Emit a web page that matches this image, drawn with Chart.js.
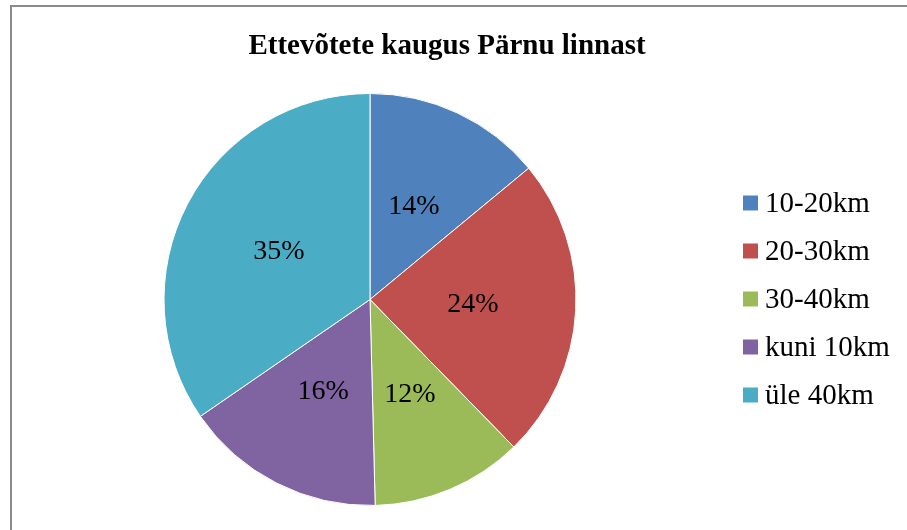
<!DOCTYPE html>
<html>
<head>
<meta charset="utf-8">
<script src="https://cdn.jsdelivr.net/npm/chart.js@4"></script>
<style>
  html, body { margin: 0; padding: 0; background: #fff; }
  #wrap { position: relative; width: 907px; height: 530px; }
  #frame {
    position: absolute; left: 10px; top: 5px; right: 0; bottom: 0;
    border-left: 2px solid #8a8a8a; border-top: 2px solid #8a8a8a;
    pointer-events: none;
  }
</style>
</head>
<body>
<div id="wrap">
  <canvas id="pie-chart" width="907" height="530"></canvas>
  <div id="frame"></div>
</div>
<script>
  const chartTitle = 'Ettevõtete kaugus Pärnu linnast';
  const labels = ['10-20km', '20-30km', '30-40km', 'kuni 10km', 'üle 40km'];
  const values = [14, 23.7, 11.9, 15.8, 34.6];
  const colors = ['#4f81bd', '#c0504d', '#9bbb59', '#8064a2', '#4bacc6'];

  const serif = "'Liberation Serif', 'Times New Roman', serif";

  // percent labels in the middle of each slice + title + legend
  const decorations = {
    id: 'decorations',
    afterDatasetsDraw(chart) {
      const ctx = chart.ctx;
      const meta = chart.getDatasetMeta(0);
      const total = values.reduce((a, b) => a + b, 0);
      ctx.save();
      ctx.fillStyle = '#000';
      ctx.font = '28px ' + serif;
      ctx.textAlign = 'center';
      ctx.textBaseline = 'middle';
      meta.data.forEach((arc, i) => {
        const p = arc.tooltipPosition();
        ctx.fillText(Math.round(values[i] / total * 100) + '%', p.x, p.y);
      });

      // title
      ctx.font = 'bold 29px ' + serif;
      ctx.fillText(chartTitle, 447, 47);

      // legend
      ctx.textAlign = 'left';
      ctx.font = '29px ' + serif;
      labels.forEach((lab, i) => {
        const y = 203 + i * 48;
        ctx.fillStyle = colors[i];
        ctx.fillRect(743, y - 7.5, 15, 15);
        ctx.fillStyle = '#000';
        ctx.fillText(lab, 765, y + 1);
      });
      ctx.restore();
    }
  };

  const data = {
    labels: labels,
    datasets: [{
      data: values,
      backgroundColor: colors,
      borderColor: '#ffffff',
      borderWidth: 1,
    }]
  };

  const config = {
    type: 'pie',
    data: data,
    options: {
      responsive: false,
      animation: false,
      layout: {
        padding: { top: 93, bottom: 24, left: 0, right: 167 }
      },
      plugins: {
        legend: { display: false },
        title: { display: false },
        tooltip: { enabled: false }
      }
    },
    plugins: [decorations]
  };

  const myChart = new Chart(
    document.getElementById('pie-chart'),
    config
  );
</script>
</body>
</html>
